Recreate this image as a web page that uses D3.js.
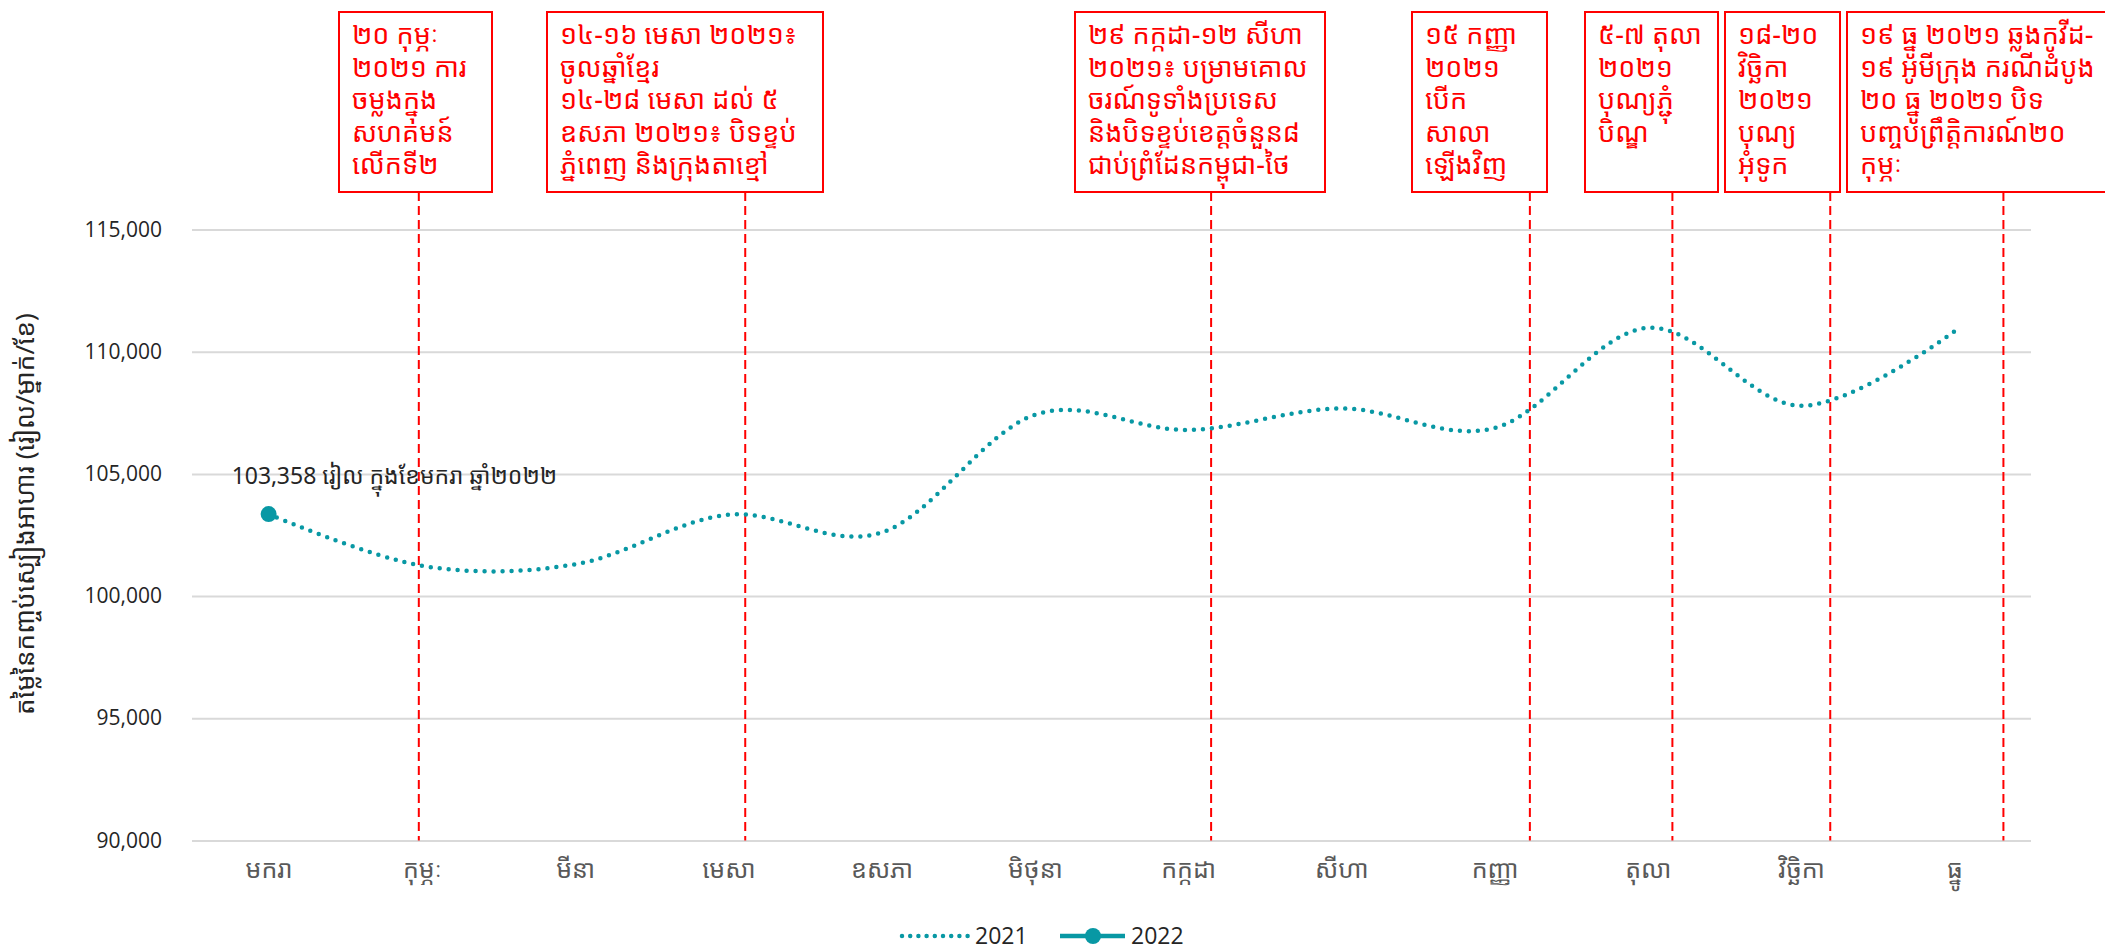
<!DOCTYPE html>
<html>
<head>
<meta charset="utf-8">
<script src="https://cdn.jsdelivr.net/npm/d3@7"></script>
<style>
  body { margin: 0; background: #fff; }
  .kh { font-family: "Noto Sans Khmer", "Khmer OS", "Noto Sans", sans-serif; }
</style>
</head>
<body>
<div id="chart"></div>
<script>
// Size
const WIDTH = 2105;
const HEIGHT = 952;

// Data
const months = ["មករា", "កុម្ភៈ", "មីនា", "មេសា", "ឧសភា", "មិថុនា", "កក្កដា", "សីហា", "កញ្ញា", "តុលា", "វិច្ឆិកា", "ធ្នូ"];
const cost2021 = [103358, 101240, 101300, 103330, 102600, 107420, 106800, 107680, 106880, 110980, 107790, 110830];
const cost2022 = [103358];
const yTicks = [90000, 95000, 100000, 105000, 110000, 115000];
const seriesNames = ["2021", "2022"];
const labelText = "103,358 រៀល ក្នុងខែមករា ឆ្នាំ២០២២";
const yTitle = "តម្លៃនៃកញ្ចប់ស្បៀងអាហារ (រៀល/ម្នាក់/ខែ)";

// Events (position in months, Jan = 0)
const eventPos = [0.98, 3.11, 6.15, 8.23, 9.16, 10.19, 11.32];
const eventText = [
  ["២០ កុម្ភៈ", "២០២១ ការ", "ចម្លងក្នុង", "សហគមន៍", "លើកទី២"],
  ["១៤-១៦ មេសា ២០២១៖", "ចូលឆ្នាំខ្មែរ", "១៤-២៨ មេសា ដល់ ៥", "ឧសភា ២០២១៖ បិទខ្ទប់", "ភ្នំពេញ និងក្រុងតាខ្មៅ"],
  ["២៩ កក្កដា-១២ សីហា", "២០២១៖ បម្រាមគោល", "ចរណ៍ទូទាំងប្រទេស", "និងបិទខ្ទប់ខេត្តចំនួន៨", "ជាប់ព្រំដែនកម្ពុជា-ថៃ"],
  ["១៥ កញ្ញា", "២០២១", "បើក", "សាលា", "ឡើងវិញ"],
  ["៥-៧ តុលា", "២០២១", "បុណ្យភ្ជុំ", "បិណ្ឌ"],
  ["១៨-២០", "វិច្ឆិកា", "២០២១", "បុណ្យ", "អុំទូក"],
  ["១៩ ធ្នូ ២០២១ ឆ្លងកូវីដ-", "១៩ អូមីក្រុង ករណីដំបូង", "២០ ធ្នូ ២០២១ បិទ", "បញ្ចប់ព្រឹត្តិការណ៍២០", "កុម្ភៈ"]
];

// Layout of the note boxes (pixels)
const boxLeft = [339, 547, 1075, 1412, 1585, 1725, 1847];
const boxRight = [492, 823, 1325, 1547, 1718, 1840, 2170];
const BOX_TOP = 12;
const BOX_BOTTOM = 192;

const TEAL = "#0898a4";
const RED = "#ff0000";

// Plot area
const M = { left: 192, right: 2031, top: 229.6, bottom: 840.4 };

const svg = d3
  .select("#chart")
  .append("svg")
  .attr("width", WIDTH)
  .attr("height", HEIGHT);

const x = d3.scalePoint().domain(months).range([M.left, M.right]).padding(0.5);
const xPos = d3
  .scaleLinear()
  .domain([0, months.length - 1])
  .range([x(months[0]), x(months[months.length - 1])]);
const y = d3.scaleLinear().domain([90000, 115000]).range([M.bottom, M.top]);

// Gridlines + y labels
const yAxis = svg
  .append("g")
  .attr("transform", "translate(" + M.left + ",0)")
  .call(
    d3
      .axisLeft(y)
      .tickValues(yTicks)
      .tickSize(-(M.right - M.left))
      .tickPadding(30)
      .tickFormat(d3.format(","))
  );
yAxis.select(".domain").remove();
yAxis.selectAll(".tick line").attr("stroke", "#d9d9d9").attr("stroke-width", 2);
yAxis
  .selectAll(".tick text")
  .attr("fill", "#252525")
  .style("font-family", "'Open Sans', sans-serif")
  .style("font-size", "21px");

// x labels
const xAxis = svg
  .append("g")
  .attr("transform", "translate(0," + M.bottom + ")")
  .call(d3.axisBottom(x).tickSize(0).tickPadding(20));
xAxis.select(".domain").remove();
xAxis
  .selectAll(".tick text")
  .attr("class", "kh")
  .attr("fill", "#595959")
  .style("font-size", "25px");

// y title
svg
  .append("text")
  .attr("class", "kh")
  .attr("transform", "translate(34,514) rotate(-90)")
  .attr("text-anchor", "middle")
  .attr("fill", "#252525")
  .style("font-size", "26px")
  .text(yTitle);

// Event lines and boxes
const notes = svg.append("g");
eventPos.forEach((p, i) => {
  notes
    .append("line")
    .attr("x1", xPos(p))
    .attr("x2", xPos(p))
    .attr("y1", BOX_BOTTOM)
    .attr("y2", M.bottom)
    .attr("stroke", RED)
    .attr("stroke-width", 2)
    .attr("stroke-dasharray", "9 5");

  notes
    .append("rect")
    .attr("x", boxLeft[i])
    .attr("y", BOX_TOP)
    .attr("width", boxRight[i] - boxLeft[i])
    .attr("height", BOX_BOTTOM - BOX_TOP)
    .attr("fill", "#fff")
    .attr("stroke", RED)
    .attr("stroke-width", 2);

  const t = notes
    .append("text")
    .attr("class", "kh")
    .attr("fill", RED)
    .style("font-size", "27px");
  eventText[i].forEach((line, j) => {
    t.append("tspan")
      .attr("x", boxLeft[i] + 13)
      .attr("y", BOX_TOP + 32 + j * 32.5)
      .text(line);
  });
});

// 2021 line (dotted)
const line = d3
  .line()
  .x((d, i) => x(months[i]))
  .y((d) => y(d))
  .curve(d3.curveCatmullRom.alpha(0));

svg
  .append("path")
  .datum(cost2021)
  .attr("d", line)
  .attr("fill", "none")
  .attr("stroke", TEAL)
  .attr("stroke-width", 4.5)
  .attr("stroke-linecap", "round")
  .attr("stroke-dasharray", "0 9");

// 2022 point
svg
  .append("g")
  .selectAll("circle")
  .data(cost2022)
  .enter()
  .append("circle")
  .attr("cx", (d, i) => x(months[i]))
  .attr("cy", (d) => y(d))
  .attr("r", 8)
  .attr("fill", TEAL);

// Data label
svg
  .append("text")
  .attr("class", "kh")
  .attr("x", x(months[0]) - 37)
  .attr("y", y(cost2022[0]) - 30)
  .attr("fill", "#252525")
  .style("font-size", "23px")
  .text(labelText);

// Legend
const legend = svg.append("g").attr("transform", "translate(900,936)");
legend
  .append("line")
  .attr("x1", 2)
  .attr("x2", 68)
  .attr("stroke", TEAL)
  .attr("stroke-width", 4.5)
  .attr("stroke-linecap", "round")
  .attr("stroke-dasharray", "0 8.2");
legend
  .append("text")
  .attr("x", 75)
  .attr("dy", "0.35em")
  .attr("fill", "#252525")
  .style("font-family", "'Open Sans', sans-serif")
  .style("font-size", "23px")
  .text(seriesNames[0]);
legend
  .append("line")
  .attr("x1", 160)
  .attr("x2", 225)
  .attr("stroke", TEAL)
  .attr("stroke-width", 4.5);
legend.append("circle").attr("cx", 193).attr("r", 8).attr("fill", TEAL);
legend
  .append("text")
  .attr("x", 231)
  .attr("dy", "0.35em")
  .attr("fill", "#252525")
  .style("font-family", "'Open Sans', sans-serif")
  .style("font-size", "23px")
  .text(seriesNames[1]);
</script>
</body>
</html>
